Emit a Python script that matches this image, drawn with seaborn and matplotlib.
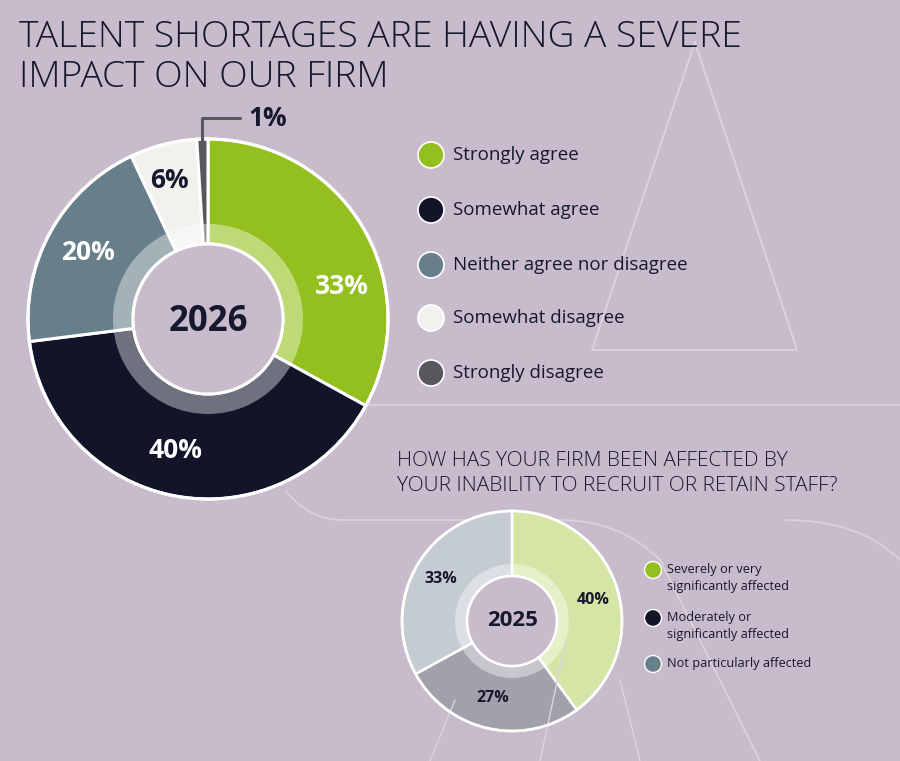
import numpy as np
import pandas as pd
import seaborn as sns
import matplotlib.pyplot as plt
from matplotlib.patches import Circle, Wedge, Polygon
from matplotlib.path import Path
from matplotlib.patches import PathPatch

# Data
big_labels = ['Strongly agree', 'Somewhat agree', 'Neither agree nor disagree',
              'Somewhat disagree', 'Strongly disagree']
big_values = [33, 40, 20, 6, 1]
big_colors = ['#93c01f', '#12142a', '#667f8a', '#f3f1ee', '#58585c']

small_labels = ['Severely or very\nsignificantly affected',
                'Moderately or\nsignificantly affected',
                'Not particularly affected']
small_values = [40, 27, 33]
small_colors = ['#d4e5a5', '#a2a1ab', '#c5cbd2']
small_legend_colors = ['#93c01f', '#12142a', '#667f8a']

BG = '#c8bccc'
INK = '#16182e'
H = 761

sns.set_theme(style='white')
plt.rcParams['font.family'] = ['Open Sans', 'DejaVu Sans']

fig = plt.figure(figsize=(9, 7.61), dpi=100, facecolor=BG)
ax = fig.add_axes([0, 0, 1, 1])
ax.set_xlim(0, 900)
ax.set_ylim(0, H)
ax.set_aspect('equal')
ax.axis('off')
ax.set_facecolor(BG)


def Y(py):
    return H - py


# faint background decoration
deco = '#dcd3df'
tri = Polygon([(695, Y(42)), (592, Y(350)), (797, Y(350))], closed=True,
              fill=False, edgecolor=deco, lw=1.3, joinstyle='round')
ax.add_patch(tri)
ax.plot([365, 900], [Y(405), Y(405)], color=deco, lw=1.2)
verts = [(285, Y(490)), (310, Y(520)), (340, Y(520)),
         (560, Y(520)), (620, Y(520)), (660, Y(560)),
         (700, Y(640)), (760, Y(761))]
codes = [Path.MOVETO, Path.CURVE3, Path.CURVE3,
         Path.LINETO, Path.CURVE3, Path.CURVE3, Path.CURVE3, Path.CURVE3]
ax.add_patch(PathPatch(Path(verts, codes), fill=False, edgecolor=deco, lw=1.2))
verts2 = [(785, Y(520)), (860, Y(520)), (900, Y(560))]
ax.add_patch(PathPatch(Path(verts2, [Path.MOVETO, Path.CURVE3, Path.CURVE3]),
                       fill=False, edgecolor=deco, lw=1.2))
ax.plot([566, 540], [Y(640), Y(761)], color=deco, lw=1.0)
ax.plot([620, 640], [Y(680), Y(761)], color=deco, lw=1.0)
ax.plot([455, 430], [Y(700), Y(761)], color=deco, lw=1.0)


def donut(values, colors, cx, cy, r_out, r_in, r_band, lw):
    ax.pie(values, colors=colors, center=(cx, Y(cy)), radius=r_out,
           startangle=90, counterclock=False,
           wedgeprops=dict(width=r_out - r_in, edgecolor='white', linewidth=lw))
    # translucent inner band
    ax.add_patch(Wedge((cx, Y(cy)), r_band, 0, 360, width=r_band - r_in,
                       facecolor='white', alpha=0.4, edgecolor='none', zorder=3))
    ax.add_patch(Circle((cx, Y(cy)), r_out, fill=False, edgecolor='white', lw=lw, zorder=4))
    ax.add_patch(Circle((cx, Y(cy)), r_in, facecolor=BG, edgecolor='white', lw=lw, zorder=4))


# big donut
donut(big_values, big_colors, 208, 319, 180, 75, 95, 2.2)
ax.set_xlim(0, 900)
ax.set_ylim(0, H)

big_pos = [(342, 287, 'white'), (175, 450, 'white'), (88, 252, 'white'),
           (169, 181, INK), (268, 119, INK)]
for v, (px, py, c) in zip(big_values, big_pos):
    ax.text(px, Y(py), f'{v}%', ha='center', va='center', fontsize=19,
            fontweight='bold', color=c, zorder=5)
ax.plot([201.5, 201.5, 240], [Y(141), Y(118), Y(118)], color='#58585c', lw=2.2, zorder=5)
ax.text(208, Y(322), '2026', ha='center', va='center', fontsize=25,
        fontweight='bold', color=INK, zorder=5)

# big legend
for i, (lab, col) in enumerate(zip(big_labels, big_colors)):
    py = [155, 210, 265, 318, 373][i]
    ax.add_patch(Circle((431, Y(py)), 13, facecolor=col, edgecolor='white', lw=1.2, zorder=5))
    ax.text(453, Y(py), lab, ha='left', va='center', fontsize=13.5, color=INK)

# title
ax.text(19, Y(19), 'TALENT SHORTAGES ARE HAVING A SEVERE\nIMPACT ON OUR FIRM',
        ha='left', va='top', fontsize=26.8, fontweight='light', color=INK,
        linespacing=1.12)

# subtitle
ax.text(397, Y(451), 'HOW HAS YOUR FIRM BEEN AFFECTED BY\nYOUR INABILITY TO RECRUIT OR RETAIN STAFF?',
        ha='left', va='top', fontsize=15, fontweight='light', color=INK,
        linespacing=1.35)

# small donut
donut(small_values, small_colors, 512, 621, 110, 45, 57, 1.8)
ax.set_xlim(0, 900)
ax.set_ylim(0, H)
small_pos = [(593, 600), (493, 698), (441, 579)]
for v, (px, py) in zip(small_values, small_pos):
    ax.text(px, Y(py), f'{v}%', ha='center', va='center', fontsize=11.5,
            fontweight='bold', color=INK, zorder=5)
ax.text(513, Y(621), '2025', ha='center', va='center', fontsize=16,
        fontweight='bold', color=INK, zorder=5)

for i, (lab, col) in enumerate(zip(small_labels, small_legend_colors)):
    py = [570, 618, 664][i]
    ty = [578, 626, 664][i]
    ax.add_patch(Circle((653, Y(py)), 8.5, facecolor=col, edgecolor='white', lw=1, zorder=5))
    ax.text(667, Y(ty), lab, ha='left', va='center', fontsize=9.2, color=INK,
            linespacing=1.35)

fig.savefig('out.png', dpi=100, facecolor=BG)
